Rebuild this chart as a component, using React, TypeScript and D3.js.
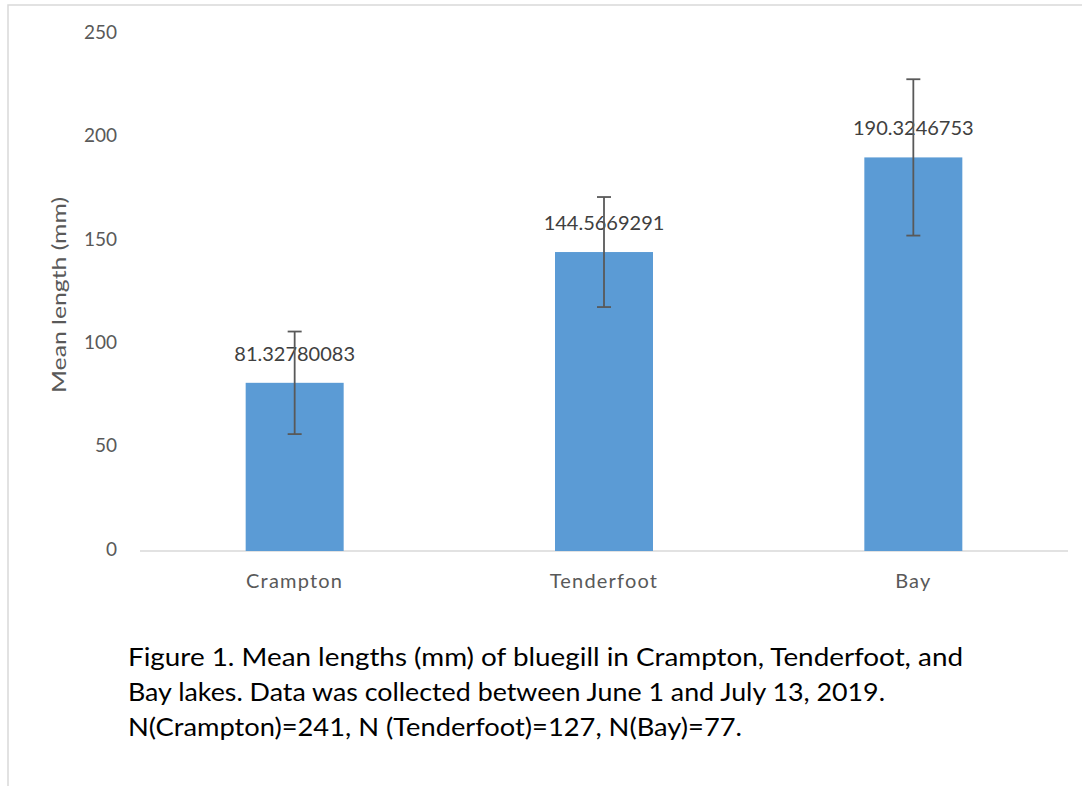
import * as d3 from 'd3';
import React from 'react';

// chart values
const lakes = ['Crampton', 'Tenderfoot', 'Bay'];
const meanLengths = [81.32780083, 144.5669291, 190.3246753];
const errors = [24.8, 26.6, 37.8];
const yTicks = [0, 50, 100, 150, 200, 250];
const caption = [
  'Figure 1. Mean lengths (mm) of bluegill in Crampton, Tenderfoot, and',
  'Bay lakes. Data was collected between June 1 and July 13, 2019.',
  'N(Crampton)=241, N (Tenderfoot)=127, N(Bay)=77.',
];
const captionWidths = [835, 757, 614];

const width = 1082;
const height = 786;
const font = 'Lato, "Open Sans", sans-serif';

const App: React.FC = () => {
  const x = d3.scaleBand().domain(lakes).range([140, 1068]).paddingInner(0.68).paddingOuter(0.34);
  const y = d3.scaleLinear().domain([0, 250]).range([551, 34]);
  const barW = 98;

  return (
    <svg
      width={width}
      height={height}
      style={{ position: 'absolute', left: 0, top: 0, background: '#fff' }}
    >
      {/* chart frame */}
      <rect x={8} y={5} width={1100} height={800} fill="#fff" stroke="#d9d9d9" strokeWidth={1.5} />

      {/* y tick labels */}
      {yTicks.map((t) => (
        <text
          key={t}
          x={117}
          y={y(t)}
          textAnchor="end"
          dominantBaseline="middle"
          fontFamily={font}
          fontSize={19}
          fill="#595959"
        >
          {t}
        </text>
      ))}

      {/* axis title */}
      <text
        transform={`translate(66,${295}) rotate(-90)`}
        textAnchor="middle"
        fontFamily={font}
        fontSize={19}
        fill="#595959"
        textLength={196}
        lengthAdjust="spacingAndGlyphs"
      >
        Mean length (mm)
      </text>

      {/* baseline */}
      <line x1={140} x2={1068} y1={y(0)} y2={y(0)} stroke="#d9d9d9" strokeWidth={1.5} />

      {/* bars */}
      {lakes.map((lake, i) => {
        const cx = (x(lake) ?? 0) + x.bandwidth() / 2;
        return (
          <rect
            key={lake}
            x={cx - barW / 2}
            y={y(meanLengths[i])}
            width={barW}
            height={y(0) - y(meanLengths[i])}
            fill="#5b9bd5"
          />
        );
      })}

      {/* data labels */}
      {lakes.map((lake, i) => {
        const cx = (x(lake) ?? 0) + x.bandwidth() / 2;
        return (
          <text
            key={lake}
            x={cx}
            y={y(meanLengths[i]) - 27}
            textAnchor="middle"
            dominantBaseline="middle"
            fontFamily={font}
            fontSize={20}
            fill="#404040"
          >
            {String(meanLengths[i])}
          </text>
        );
      })}

      {/* error bars */}
      {lakes.map((lake, i) => {
        const cx = (x(lake) ?? 0) + x.bandwidth() / 2;
        const hi = y(meanLengths[i] + errors[i]);
        const lo = y(meanLengths[i] - errors[i]);
        return (
          <g key={lake} stroke="#595959" strokeWidth={1.8}>
            <line x1={cx} x2={cx} y1={hi} y2={lo} />
            <line x1={cx - 7} x2={cx + 7} y1={hi} y2={hi} />
            <line x1={cx - 7} x2={cx + 7} y1={lo} y2={lo} />
          </g>
        );
      })}

      {/* category labels */}
      {lakes.map((lake) => (
        <text
          key={lake}
          x={(x(lake) ?? 0) + x.bandwidth() / 2}
          y={583}
          textAnchor="middle"
          dominantBaseline="middle"
          fontFamily={font}
          fontSize={20}
          letterSpacing={1.2}
          fill="#595959"
        >
          {lake}
        </text>
      ))}

      {/* caption */}
      {caption.map((line, i) => (
        <text
          key={i}
          x={128}
          y={666 + i * 35}
          fontFamily={font}
          fontSize={25}
          fill="#000"
          textLength={captionWidths[i]}
          lengthAdjust="spacingAndGlyphs"
        >
          {line}
        </text>
      ))}
    </svg>
  );
};

export default App;
